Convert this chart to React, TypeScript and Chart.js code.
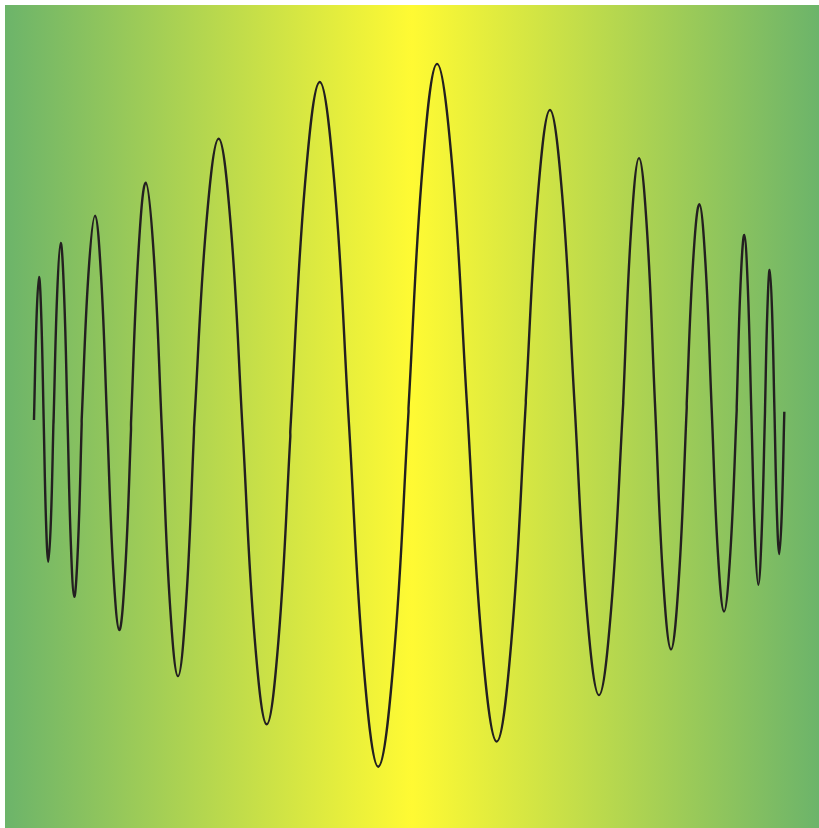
import React, { useEffect, useRef } from "react";
import { Chart, registerables } from "chart.js";

Chart.register(...registerables);

// x positions (0..1000 units across the plot), one row per wave cycle
const times: number[] = [
  35.6, 38.7, 41.8, 44.65, 47.5, 50.35, 53.2, 56.4, 59.6,
  59.6, 64.0, 68.4, 72.6, 76.8, 80.95, 85.1, 89.65, 94.2,
  94.2, 102.4, 110.6, 118.05, 125.5, 132.95, 140.4, 147.6, 154.8,
  154.8, 163.85, 172.9, 182.8, 192.7, 202.6, 212.5, 222.35, 232.2,
  232.2, 247.35, 262.5, 277.25, 292.0, 306.75, 321.5, 336.0, 350.5,
  350.5, 368.55, 386.6, 404.6, 422.6, 440.6, 458.6, 477.15, 495.7,
  495.7, 513.2, 530.7, 549.05, 567.4, 585.75, 604.1, 621.95, 639.8,
  639.8, 654.65, 669.5, 684.55, 699.6, 714.65, 729.7, 744.6, 759.5,
  759.5, 769.2, 778.9, 788.7, 798.5, 808.35, 818.2, 827.85, 837.5,
  837.5, 845.25, 853.0, 860.55, 868.1, 875.7, 883.3, 891.1, 898.9,
  898.9, 903.55, 908.2, 912.5, 916.8, 921.1, 925.4, 929.55, 933.7,
  933.7, 936.55, 939.4, 942.35, 945.3, 948.25, 951.2, 954.3, 957.4,
];

// signal values (-100..100), one row per wave cycle
const signal: number[] = [
  -0.85, 23.7, 33.9, 23.8, -0.7, -25.2, -35.3, -25.2, -0.85,
  -1.58, 29.4, 42.2, 29.6, -0.78, -31.2, -43.8, -31.5, -1.82,
  -0.85, 34.3, 48.8, 34.1, -1.54, -37.1, -51.9, -37.6, -3.26,
  -1.58, 39.7, 56.8, 39.2, -3.12, -45.5, -63.1, -45.7, -3.77,
  -2.79, 46.9, 67.5, 46.65, -3.65, -53.95, -74.8, -54.3, -4.98,
  -3.52, 56.45, 81.3, 56.9, -1.91, -60.7, -85.1, -59.85, 1.09,
  2.07, 61.2, 85.7, 61.6, 3.32, -54.9, -79.0, -54.9, 3.28,
  4.01, 53.85, 74.5, 53.7, 3.4, -46.9, -67.7, -46.9, 3.28,
  3.77, 45.5, 62.8, 45.3, 3.12, -39.1, -56.6, -39.4, 2.07,
  3.28, 37.4, 51.6, 37.1, 2.1, -32.9, -47.4, -33.05, 1.58,
  2.31, 31.85, 44.1, 31.65, 1.58, -28.45, -40.9, -28.5, 1.34,
  1.82, 25.7, 35.6, 25.5, 1.09, -23.3, -33.4, -23.3, 1.17,
];

const EDGE_GREEN = "#6cb46a";
const CENTER_YELLOW = "#fffa33";
const LINE_COLOR = "#231f20";

const gradientBackground = {
  id: "gradientBackground",
  beforeDraw(chart: any) {
    const { ctx, chartArea } = chart;
    if (!chartArea) return;
    const { left, right, top, bottom } = chartArea;
    const g = ctx.createLinearGradient(left, 0, right, 0);
    g.addColorStop(0, EDGE_GREEN);
    g.addColorStop(0.5, CENTER_YELLOW);
    g.addColorStop(1, EDGE_GREEN);
    ctx.save();
    ctx.fillStyle = g;
    ctx.fillRect(left, top, right - left, bottom - top);
    ctx.restore();
  },
};

export default function App() {
  const canvasRef = useRef<HTMLCanvasElement | null>(null);

  useEffect(() => {
    if (!canvasRef.current) return;
    const points = times.map((t, i) => ({ x: t, y: signal[i] }));
    const chart = new Chart(canvasRef.current, {
      type: "line",
      data: {
        datasets: [
          {
            data: points,
            borderColor: LINE_COLOR,
            borderWidth: 2.4,
            pointRadius: 0,
            tension: 0.4,
            fill: false,
          },
        ],
      },
      options: {
        animation: false,
        responsive: true,
        maintainAspectRatio: false,
        layout: { padding: { left: 5, top: 5, right: 0, bottom: 0 } },
        plugins: {
          legend: { display: false },
          tooltip: { enabled: false },
        },
        scales: {
          x: { type: "linear", min: 0, max: 1000, display: false },
          y: { type: "linear", min: -100, max: 100, display: false },
        },
      },
      plugins: [gradientBackground],
    });
    return () => chart.destroy();
  }, []);

  return (
    <div style={{ position: "fixed", left: 0, top: 0, width: 819, height: 828, background: "#fff" }}>
      <canvas ref={canvasRef} />
    </div>
  );
}
